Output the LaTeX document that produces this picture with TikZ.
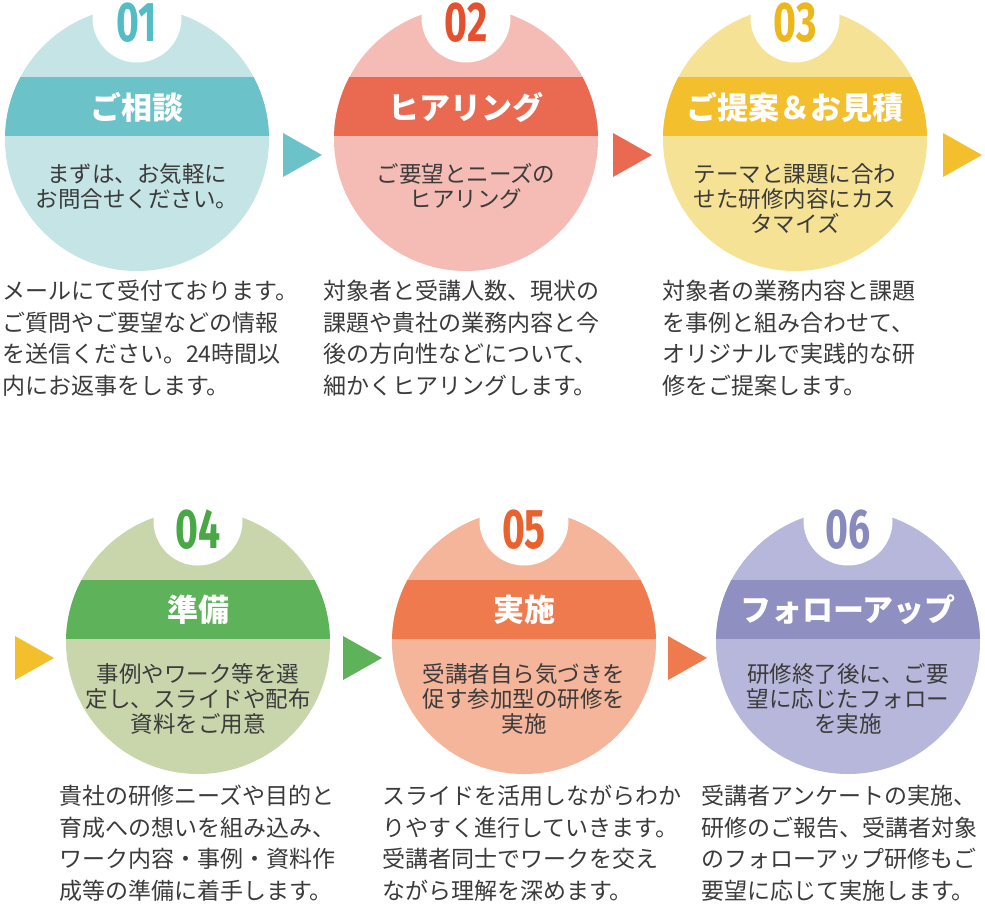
\documentclass[tikz,border=0pt]{standalone}
\usepackage{fontspec}
\setmainfont{Noto Sans CJK JP}
\newfontfamily\numfont{Fira Sans}
\definecolor{tealL}{HTML}{C4E4E6}
\definecolor{tealB}{HTML}{6BC3C9}
\definecolor{tealN}{HTML}{53BCC4}
\definecolor{redL}{HTML}{F5BCB5}
\definecolor{redB}{HTML}{E96A51}
\definecolor{redN}{HTML}{E5512F}
\definecolor{yelL}{HTML}{F6E295}
\definecolor{yelB}{HTML}{F3BF2C}
\definecolor{yelN}{HTML}{EDB61A}
\definecolor{grnL}{HTML}{C9D6AC}
\definecolor{grnB}{HTML}{5DB25A}
\definecolor{grnN}{HTML}{49A846}
\definecolor{oraL}{HTML}{F5B59A}
\definecolor{oraB}{HTML}{EE7A4E}
\definecolor{oraN}{HTML}{E9612D}
\definecolor{purL}{HTML}{B7B7DB}
\definecolor{purB}{HTML}{8F8FC1}
\definecolor{purN}{HTML}{8889BC}
\definecolor{txt}{HTML}{3B3B3B}
\tikzstyle{disc}=[circle,minimum size=264pt,inner sep=0pt]
\tikzstyle{notch}=[circle,fill=white,minimum size=89pt,inner sep=0pt]
\tikzstyle{num}=[font=\numfont\bfseries\fontsize{56}{56}\selectfont,xscale=0.7,inner sep=0pt]
\tikzstyle{head}=[font=\bfseries\fontsize{31}{31}\selectfont,text=white,inner sep=0pt]
\tikzstyle{body}=[font=\fontsize{22.5}{25}\selectfont,text=txt,align=center,anchor=north,inner sep=0pt]
\tikzstyle{desc}=[font=\fontsize{23}{31.5}\selectfont,text=txt,align=left,anchor=north west,inner sep=0pt]

\begin{document}
\begin{tikzpicture}[x=1pt,y=-1pt]
\useasboundingbox (0,0) rectangle (985,903);

\node[disc,fill=tealL] (c1) at (137,139) {};
\node[disc,fill=redL] (c2) at (466,139) {};
\node[disc,fill=yelL] (c3) at (795,139) {};
\node[disc,fill=grnL] (c4) at (198,642) {};
\node[disc,fill=oraL] (c5) at (524,642) {};
\node[disc,fill=purL] (c6) at (848,642) {};

\begin{scope}
\clip (c1) circle (132pt);
\fill[tealB] (0,77) rectangle (300,136);
\end{scope}
\begin{scope}
\clip (c2) circle (132pt);
\fill[redB] (300,77) rectangle (640,136);
\end{scope}
\begin{scope}
\clip (c3) circle (132pt);
\fill[yelB] (640,77) rectangle (985,136);
\end{scope}
\begin{scope}
\clip (c4) circle (132pt);
\fill[grnB] (0,580) rectangle (340,639);
\end{scope}
\begin{scope}
\clip (c5) circle (132pt);
\fill[oraB] (340,580) rectangle (670,639);
\end{scope}
\begin{scope}
\clip (c6) circle (132pt);
\fill[purB] (670,580) rectangle (985,639);
\end{scope}

\node[notch] (h1) at (137,18) {};
\node[notch] (h2) at (466,18) {};
\node[notch] (h3) at (795,18) {};
\node[notch] (h4) at (198,521) {};
\node[notch] (h5) at (524,521) {};
\node[notch] (h6) at (848,521) {};

\node[num,text=tealN] (n1) at (137,23) {01};
\node[num,text=redN] (n2) at (466,23) {02};
\node[num,text=yelN] (n3) at (795,23) {03};
\node[num,text=grnN] (n4) at (198,530) {04};
\node[num,text=oraN] (n5) at (524,530) {05};
\node[num,text=purN] (n6) at (848,530) {06};

\node[head] (t1) at (137,107) {ご相談};
\node[head] (t2) at (466,107) {ヒアリング};
\node[head] (t3) at (795,107) {ご提案＆お見積};
\node[head] (t4) at (198,610) {準備};
\node[head] (t5) at (524,610) {実施};
\node[head] (t6) at (848,610) {フォローアップ};

\node[body] (b1) at (137,163) {まずは、お気軽に\\お問合せください。};
\node[body] (b2) at (466,163) {ご要望とニーズの\\ヒアリング};
\node[body] (b3) at (795,163) {テーマと課題に合わ\\せた研修内容にカス\\タマイズ};
\node[body] (b4) at (198,663) {事例やワーク等を選\\定し、スライドや配布\\資料をご用意};
\node[body] (b5) at (524,663) {受講者自ら気づきを\\促す参加型の研修を\\実施};
\node[body] (b6) at (848,663) {研修終了後に、ご要\\望に応じたフォロー\\を実施};

\node[desc] (d1) at (2,280) {メールにて受付ております。\\ご質問やご要望などの情報\\を送信ください。24時間以\\内にお返事をします。};
\node[desc] (d2) at (323,280) {対象者と受講人数、現状の\\課題や貴社の業務内容と今\\後の方向性などについて、\\細かくヒアリングします。};
\node[desc] (d3) at (662,280) {対象者の業務内容と課題\\を事例と組み合わせて、\\オリジナルで実践的な研\\修をご提案します。};
\node[desc] (d4) at (59,785) {貴社の研修ニーズや目的と\\育成への想いを組み込み、\\ワーク内容・事例・資料作\\成等の準備に着手します。};
\node[desc] (d5) at (382,785) {スライドを活用しながらわか\\りやすく進行していきます。\\受講者同士でワークを交え\\ながら理解を深めます。};
\node[desc] (d6) at (701,785) {受講者アンケートの実施、\\研修のご報告、受講者対象\\のフォローアップ研修もご\\要望に応じて実施します。};

\fill[tealB] (283,133) -- (322,155) -- (283,177) -- cycle;
\fill[redB] (613,133) -- (652,155) -- (613,177) -- cycle;
\fill[yelB] (943,133) -- (982,155) -- (943,177) -- cycle;
\fill[yelB] (15,636) -- (54,658) -- (15,680) -- cycle;
\fill[grnB] (343,636) -- (382,658) -- (343,680) -- cycle;
\fill[oraB] (668,636) -- (707,658) -- (668,680) -- cycle;

\end{tikzpicture}
\end{document}
